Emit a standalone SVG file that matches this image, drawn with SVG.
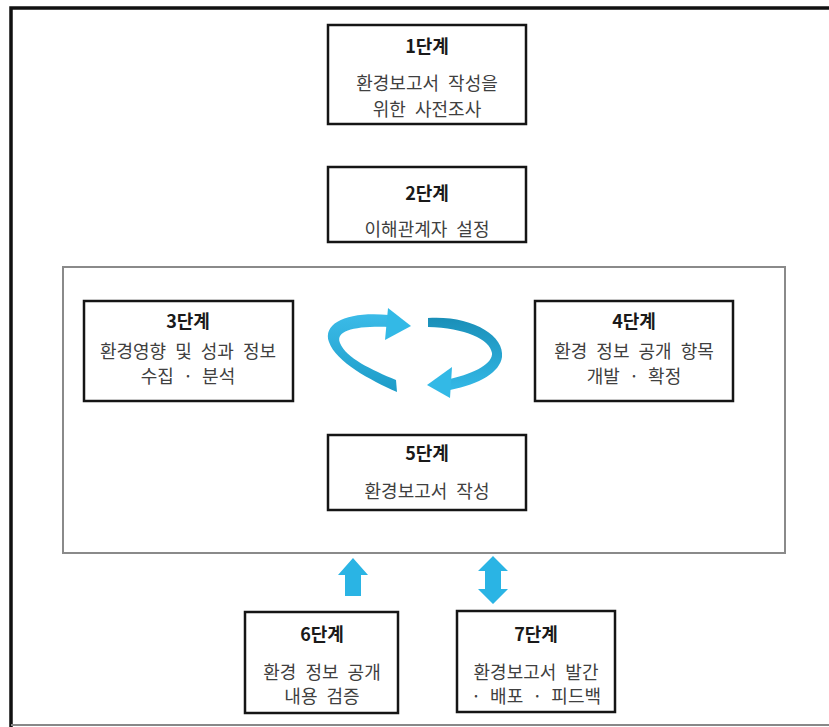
<svg xmlns="http://www.w3.org/2000/svg" width="829" height="727" viewBox="0 0 829 727">
<defs>
<style>
.box{fill:#fff;stroke:#151515;stroke-width:2.5}
.t{font-family:"Noto Sans CJK KR","Noto Sans",sans-serif;font-size:18px;word-spacing:5px;text-anchor:middle;fill:#404040}
.h{font-weight:bold;fill:#1a1a1a;font-size:18px}
.arr{fill:#2ab4e4}
</style>
<linearGradient id="gl" x1="0" y1="0" x2="0" y2="1">
<stop offset="0" stop-color="#3bbbe8"/><stop offset="1" stop-color="#1d9cc8"/>
</linearGradient>
<linearGradient id="gr" x1="0" y1="0" x2="0" y2="1">
<stop offset="0" stop-color="#1a8fb8"/><stop offset="1" stop-color="#33b8e6"/>
</linearGradient>
</defs>
<rect width="829" height="727" fill="#fff"/>
<path d="M11,727 V8 H829" fill="none" stroke="#111" stroke-width="3.5"/>
<line x1="11" y1="725" x2="829" y2="725" stroke="#888" stroke-width="2"/>
<rect x="63" y="267" width="722" height="286" fill="none" stroke="#8a8a8a" stroke-width="2"/>

<g id="node1">
<rect class="box" x="328" y="25" width="198" height="99"/>
<text class="t h" x="427" y="53">1단계</text>
<text class="t" x="427" y="90">환경보고서 작성을</text>
<text class="t" x="427" y="116">위한 사전조사</text>
</g>
<g id="node2">
<rect class="box" x="328" y="167" width="198" height="75"/>
<text class="t h" x="427" y="200">2단계</text>
<text class="t" x="427" y="236">이해관계자 설정</text>
</g>
<g id="node3">
<rect class="box" x="84" y="301" width="209" height="100"/>
<text class="t h" x="188" y="328">3단계</text>
<text class="t" x="188" y="358">환경영향 및 성과 정보</text>
<text class="t" x="188" y="383">수집 · 분석</text>
</g>
<g id="node4">
<rect class="box" x="535" y="301" width="198" height="100"/>
<text class="t h" x="634" y="328">4단계</text>
<text class="t" x="634" y="358">환경 정보 공개 항목</text>
<text class="t" x="634" y="383">개발 · 확정</text>
</g>
<g id="node5">
<rect class="box" x="328" y="435" width="198" height="75"/>
<text class="t h" x="427" y="460">5단계</text>
<text class="t" x="427" y="498">환경보고서 작성</text>
</g>
<g id="node6">
<rect class="box" x="245" y="612" width="153" height="101"/>
<text class="t h" x="322" y="641">6단계</text>
<text class="t" x="322" y="679">환경 정보 공개</text>
<text class="t" x="322" y="703">내용 검증</text>
</g>
<g id="node7">
<rect class="box" x="457" y="611" width="158" height="101"/>
<text class="t h" x="536" y="641">7단계</text>
<text class="t" x="536" y="679">환경보고서 발간</text>
<text class="t" x="536" y="703">· 배포 · 피드백</text>
</g>

<g id="connectors">
<path fill="url(#gl)" d="M389,315 C350,311 322,322 329,342 C336,362 370,380 397,392 L396,380 C372,370 346,358 340,343 C335,330 356,326 389,327 Z"/>
<polygon fill="#33b9e6" points="388,308 411,326 385,340"/>
<path fill="url(#gr)" d="M428,318 C470,315 505,335 502,357 C500,372 480,384 450,390 L450,379 C476,373 493,363 492,353 C490,339 465,328 428,327 Z"/>
<polygon fill="#33b9e6" points="452,367 427,385 450,398"/>
<polygon class="arr" points="353,558 368,575 361,575 361,596 345,596 345,575 338,575"/>
<polygon class="arr" points="493,556 508,571 501,571 501,589 508,589 493,604 478,589 485,589 485,571 478,571"/>
</g>
</svg>
